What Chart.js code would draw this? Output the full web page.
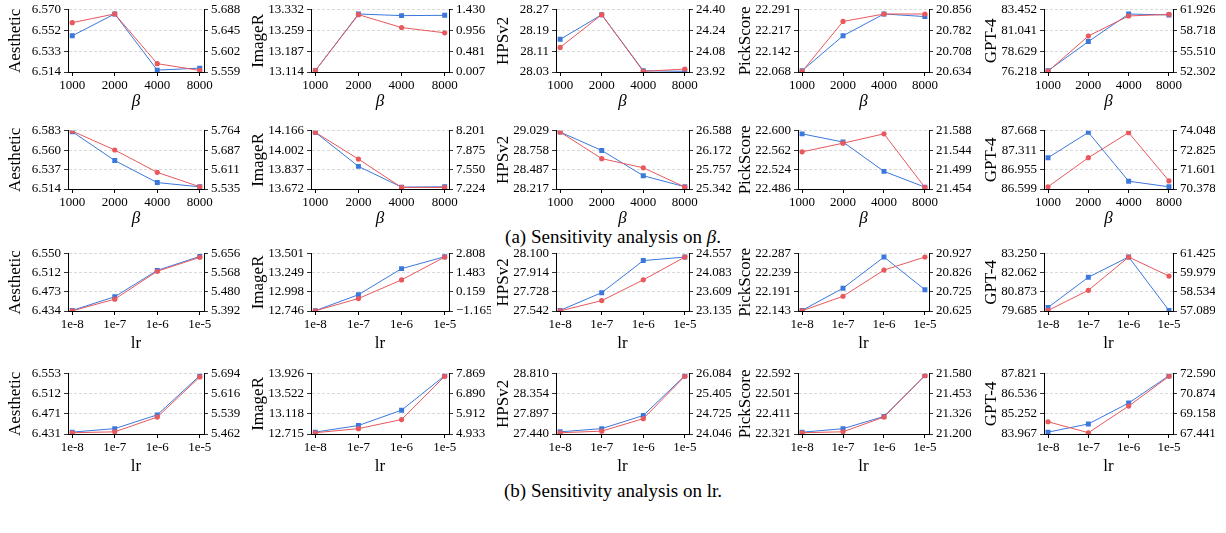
<!DOCTYPE html>
<html>
<head>
<meta charset="utf-8">
<script src="https://cdn.jsdelivr.net/npm/chart.js@4.4.0/dist/chart.umd.min.js"></script>
<style>
  body { margin: 0; background: #fff; width: 1226px; height: 533px; position: relative; overflow: hidden; font-family: "Liberation Serif", serif; }
  canvas { position: absolute; }
  .cap { position: absolute; left: 0; width: 1226px; text-align: center; font-size: 19px; color: #000; }
</style>
</head>
<body>
<div class="cap" style="top:226px">(a) Sensitivity analysis on <i>β</i>.</div>
<div class="cap" style="top:480px">(b) Sensitivity analysis on lr.</div>
<script>
// categories
var betaLabels = ["1000", "2000", "4000", "8000"];
var lrLabels = ["1e-8", "1e-7", "1e-6", "1e-5"];
var metrics = ["Aesthetic", "ImageR", "HPSv2", "PickScore", "GPT-4"];

// row 1 (beta) - blue on left axis, red on right axis
var betaA_blue = [
  [6.5466, 6.5663, 6.5157, 6.5175],
  [13.1186, 13.3173, 13.3116, 13.3126],
  [28.156, 28.251, 28.035, 28.0325],
  [22.0726, 22.198, 22.276, 22.2667],
  [76.369, 79.76, 82.96, 82.85]
];
var betaA_red = [
  [5.6614, 5.6794, 5.5763, 5.5623],
  [0.037, 1.319, 1.023, 0.904],
  [24.110, 24.3625, 23.925, 23.9425],
  [20.636, 20.8144, 20.841, 20.841],
  [52.40, 57.87, 60.97, 61.22]
];
var betaA_leftTicks = [
  ["6.514", "6.533", "6.552", "6.570"],
  ["13.114", "13.187", "13.259", "13.332"],
  ["28.03", "28.11", "28.19", "28.27"],
  ["22.068", "22.142", "22.217", "22.291"],
  ["76.218", "78.629", "81.041", "83.452"]
];
var betaA_rightTicks = [
  ["5.559", "5.602", "5.645", "5.688"],
  ["0.007", "0.481", "0.956", "1.430"],
  ["23.92", "24.08", "24.24", "24.40"],
  ["20.634", "20.708", "20.782", "20.856"],
  ["52.302", "55.510", "58.718", "61.926"]
];

// row 2 (beta)
var betaB_blue = [
  [6.5819, 6.5477, 6.5216, 6.5166],
  [14.153, 13.864, 13.688, 13.691],
  [29.011, 28.755, 28.402, 28.248],
  [22.594, 22.578, 22.5205, 22.4897],
  [87.174, 87.639, 86.742, 86.640]
];
var betaB_red = [
  [5.7628, 5.6884, 5.6005, 5.5437],
  [8.175, 7.726, 7.2504, 7.250],
  [26.561, 25.992, 25.796, 25.383],
  [21.5395, 21.5595, 21.581, 21.4576],
  [70.517, 72.352, 73.93, 70.89]
];
var betaB_leftTicks = [
  ["6.514", "6.537", "6.560", "6.583"],
  ["13.672", "13.837", "14.002", "14.166"],
  ["28.217", "28.487", "28.758", "29.029"],
  ["22.486", "22.524", "22.562", "22.600"],
  ["86.599", "86.955", "87.311", "87.668"]
];
var betaB_rightTicks = [
  ["5.535", "5.611", "5.687", "5.764"],
  ["7.224", "7.550", "7.875", "8.201"],
  ["25.342", "25.757", "26.172", "26.588"],
  ["21.454", "21.499", "21.544", "21.588"],
  ["70.378", "71.601", "72.825", "74.048"]
];

// row 3 (lr)
var lrA_blue = [
  [6.4352, 6.4629, 6.5164, 6.5446],
  [12.750, 12.961, 13.305, 13.462],
  [27.548, 27.721, 28.034, 28.068],
  [22.1445, 22.2005, 22.2788, 22.1967],
  [79.906, 81.79, 83.05, 79.72]
];
var lrA_red = [
  [5.3925, 5.4467, 5.5753, 5.6396],
  [-1.15, -0.299, 0.996, 2.58],
  [23.138, 23.393, 23.909, 24.476],
  [20.626, 20.703, 20.841, 20.910],
  [57.13, 58.66, 61.18, 59.74]
];
var lrA_leftTicks = [
  ["6.434", "6.473", "6.512", "6.550"],
  ["12.746", "12.998", "13.249", "13.501"],
  ["27.542", "27.728", "27.914", "28.100"],
  ["22.143", "22.191", "22.239", "22.287"],
  ["79.685", "80.873", "82.062", "83.250"]
];
var lrA_rightTicks = [
  ["5.392", "5.480", "5.568", "5.656"],
  ["\u22121.165", "0.159", "1.483", "2.808"],
  ["23.135", "23.609", "24.083", "24.557"],
  ["20.625", "20.725", "20.826", "20.927"],
  ["57.089", "58.534", "59.979", "61.425"]
];

// row 4 (lr)
var lrB_blue = [
  [6.4348, 6.4419, 6.4698, 6.5492],
  [12.753, 12.886, 13.194, 13.888],
  [27.490, 27.562, 27.861, 28.767],
  [22.329, 22.345, 22.400, 22.584],
  [84.087, 84.61, 85.95, 87.70]
];
var lrB_red = [
  [5.4669, 5.4704, 5.5272, 5.682],
  [4.995, 5.194, 5.638, 7.746],
  [24.089, 24.142, 24.566, 25.999],
  [21.208, 21.214, 21.307, 21.568],
  [68.488, 67.55, 69.83, 72.37]
];
var lrB_leftTicks = [
  ["6.431", "6.471", "6.512", "6.553"],
  ["12.715", "13.118", "13.522", "13.926"],
  ["27.440", "27.897", "28.354", "28.810"],
  ["22.321", "22.411", "22.501", "22.592"],
  ["83.967", "85.252", "86.536", "87.821"]
];
var lrB_rightTicks = [
  ["5.462", "5.539", "5.616", "5.694"],
  ["4.933", "5.912", "6.890", "7.869"],
  ["24.046", "24.725", "25.405", "26.084"],
  ["21.200", "21.326", "21.453", "21.580"],
  ["67.441", "69.158", "70.874", "72.590"]
];

var rows = [
  { cats: betaLabels, xTitle: "β", italic: true, blue: betaA_blue, red: betaA_red, lt: betaA_leftTicks, rt: betaA_rightTicks },
  { cats: betaLabels, xTitle: "β", italic: true, blue: betaB_blue, red: betaB_red, lt: betaB_leftTicks, rt: betaB_rightTicks },
  { cats: lrLabels, xTitle: "lr", italic: false, blue: lrA_blue, red: lrA_red, lt: lrA_leftTicks, rt: lrA_rightTicks },
  { cats: lrLabels, xTitle: "lr", italic: false, blue: lrB_blue, red: lrB_red, lt: lrB_leftTicks, rt: lrB_rightTicks }
];

// plot area geometry (px)
var colPlot = [[68, 204], [311, 449], [556, 689], [798, 929], [1044, 1173]];
var rowPlot = [[7, 72], [128, 189], [251, 311], [371, 434]];
var LEFT_W = 63, RIGHT_W = 42, TOP_PAD = 8, BOTTOM_H = 40;

var FONT = "'Liberation Serif', 'Times New Roman', serif";
var BLUE = "#3b78dc";
var RED = "#e8585c";

function num(s) {
  return parseFloat(s.replace("\u2212", "-"));
}

function yAxis(labels, position, title) {
  var lo = num(labels[0]), hi = num(labels[labels.length - 1]);
  var axis = {
    type: "linear",
    position: position,
    min: lo,
    max: hi,
    afterBuildTicks: function (scale) {
      var n = labels.length;
      scale.ticks = labels.map(function (_, i) {
        return { value: lo + (i * (hi - lo)) / (n - 1) };
      });
    },
    ticks: {
      autoSkip: false,
      padding: 3,
      color: "#000",
      font: { family: FONT, size: 13 },
      callback: function (v, i) {
        return labels[i];
      },
    },
    border: { color: "#000", width: 1 },
    grid: {
      drawOnChartArea: position === "left",
      color: "#cfcfcf",
      lineWidth: 0.8,
      tickColor: "#000",
      tickLength: 4,
    },
    afterFit: function (scale) {
      scale.width = position === "left" ? LEFT_W : RIGHT_W;
    },
  };
  if (position === "left") {
    axis.border.dash = [3, 2];
    axis.title = {
      display: true,
      text: title,
      color: "#000",
      padding: 0,
      font: { family: FONT, size: 17, lineHeight: 1.2 },
    };
  }
  return axis;
}

rows.forEach(function (row, r) {
  var bottomH = row.italic ? BOTTOM_H : BOTTOM_H + 3;
  metrics.forEach(function (metric, c) {
    var pl = colPlot[c][0], pr = colPlot[c][1];
    var pt = rowPlot[r][0], pb = rowPlot[r][1];
    var canvas = document.createElement("canvas");
    var w = LEFT_W + (pr - pl) + RIGHT_W;
    var h = TOP_PAD + (pb - pt) + bottomH;
    canvas.width = w;
    canvas.height = h;
    canvas.style.width = w + "px";
    canvas.style.height = h + "px";
    canvas.style.left = pl - LEFT_W + "px";
    canvas.style.top = pt - TOP_PAD + "px";
    document.body.appendChild(canvas);

    var cats = row.cats;
    var toPts = function (vals) {
      return vals.map(function (v, i) {
        return { x: i, y: v };
      });
    };

    new Chart(canvas.getContext("2d"), {
      type: "line",
      data: {
        datasets: [
          {
            label: "red",
            data: toPts(row.red[c]),
            yAxisID: "yR",
            borderColor: RED,
            backgroundColor: RED,
            borderWidth: 1,
            pointStyle: "circle",
            pointRadius: 2.6,
            pointBorderWidth: 0,
            tension: 0,
            order: 0,
          },
          {
            label: "blue",
            data: toPts(row.blue[c]),
            yAxisID: "yL",
            borderColor: BLUE,
            backgroundColor: BLUE,
            borderWidth: 1,
            pointStyle: "rect",
            pointRadius: 3.5,
            pointBorderWidth: 0,
            tension: 0,
            order: 1,
          },
        ],
      },
      options: {
        responsive: false,
        animation: false,
        events: [],
        layout: { padding: { top: TOP_PAD, left: 0, right: 0, bottom: 0 } },
        plugins: { legend: { display: false }, tooltip: { enabled: false } },
        scales: {
          x: {
            type: "linear",
            min: -0.1,
            max: cats.length - 1 + 0.1,
            afterBuildTicks: function (scale) {
              scale.ticks = cats.map(function (_, i) {
                return { value: i };
              });
            },
            ticks: {
              autoSkip: false,
              maxRotation: 0,
              padding: 2,
              color: "#000",
              font: { family: FONT, size: 13 },
              callback: function (v) {
                return cats[v];
              },
            },
            border: { color: "#000", width: 1 },
            grid: { drawOnChartArea: false, tickColor: "#000", tickLength: 4 },
            title: {
              display: true,
              text: row.xTitle,
              color: "#000",
              padding: 0,
              font: { family: FONT, size: 17, style: row.italic ? "italic" : "normal", lineHeight: 1.2 },
            },
            afterFit: function (scale) {
              scale.height = bottomH;
            },
          },
          yL: yAxis(row.lt[c], "left", metric),
          yR: yAxis(row.rt[c], "right", ""),
        },
      },
    });
  });
});
</script>
</body>
</html>
